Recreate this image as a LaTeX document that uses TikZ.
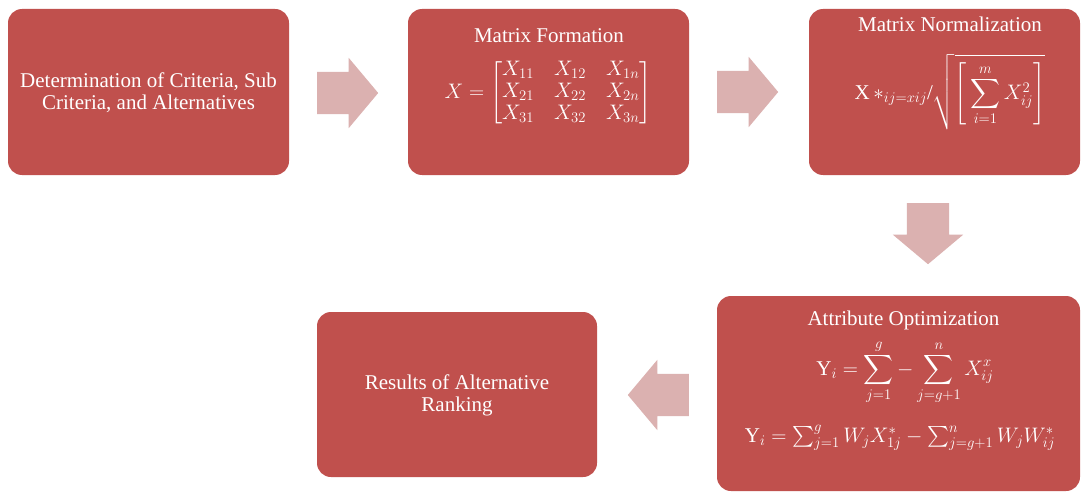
\RequirePackage{fix-cm}
\documentclass[tikz,border=0pt]{standalone}
\usepackage{amsmath}
\usepackage{fontspec}
\setmainfont{Liberation Serif}
\newfontfamily\boxserif{Liberation Serif}
\usetikzlibrary{shapes.arrows}
\definecolor{boxred}{HTML}{C0504D}
\definecolor{arrowpink}{HTML}{DBB1B0}
\begin{document}
\begin{tikzpicture}[x=1pt,y=-1pt,
  box/.style={fill=boxred, draw=none, rounded corners=14pt, inner sep=0pt},
  txt/.style={text=white, font=\boxserif\fontsize{21}{22}\selectfont, align=center, inner sep=0pt},
  blockarrow/.style={single arrow, fill=arrowpink, draw=none, minimum height=61pt,
    inner xsep=0pt, inner ysep=21pt, single arrow head extend=14pt,
    single arrow tip angle=100, anchor=tail}]
\useasboundingbox (0,0) rectangle (1081,492);
% boxes
\node[box, minimum width=281pt, minimum height=166pt] (b1) at (148.5,92) {};
\node[box, minimum width=281pt, minimum height=166pt] (b2) at (548.5,92) {};
\node[box, minimum width=271pt, minimum height=166pt] (b3) at (944.5,92) {};
\node[box, minimum width=363pt, minimum height=195pt] (b4) at (898.5,393.5) {};
\node[box, minimum width=280pt, minimum height=165pt] (b5) at (457,394.5) {};
% block arrows
\node[blockarrow] (a1) at (317,93) {};
\node[blockarrow] (a2) at (717,92) {};
\node[blockarrow, shape border rotate=270, inner xsep=21pt, inner ysep=0pt] (a3) at (928,203) {};
\node[blockarrow, shape border rotate=180] (a4) at (689,395) {};
% texts
\node[txt] (t1) at (148.5,93) {Determination of Criteria, Sub\\Criteria, and Alternatives};
\node[txt, anchor=base] (t2) at (549,43) {Matrix Formation};
\node[txt] (m2) at (548,93) {\setlength\arraycolsep{10pt}$X = \begin{bmatrix} X_{11} & X_{12} & X_{1n}\\ X_{21} & X_{22} & X_{2n}\\ X_{31} & X_{32} & X_{3n}\end{bmatrix}$};
\node[txt, anchor=base] (t3) at (950,32) {Matrix Normalization};
\node[txt] (m3) at (950,92) {X\,$*_{ij=xij}$/$\displaystyle\sqrt{\left[\,\sum_{i=1}^{m} X_{ij}^{2}\right]}$};
\node[txt, anchor=base] (t4) at (903.5,325) {Attribute Optimization};
\node[txt] (m4a) at (905,372) {$\displaystyle \mathrm{Y}_i = \sum_{j=1}^{g} - \sum_{j=g+1}^{n} X_{ij}^{x}$};
\node[txt, anchor=base] (m4b) at (900,442) {$\mathrm{Y}_i = \sum_{j=1}^{g} W_j X_{1j}^{*} - \sum_{j=g+1}^{n} W_j W_{ij}^{*}$};
\node[txt] (t5) at (457,395) {Results of Alternative\\Ranking};
\end{tikzpicture}
\end{document}
